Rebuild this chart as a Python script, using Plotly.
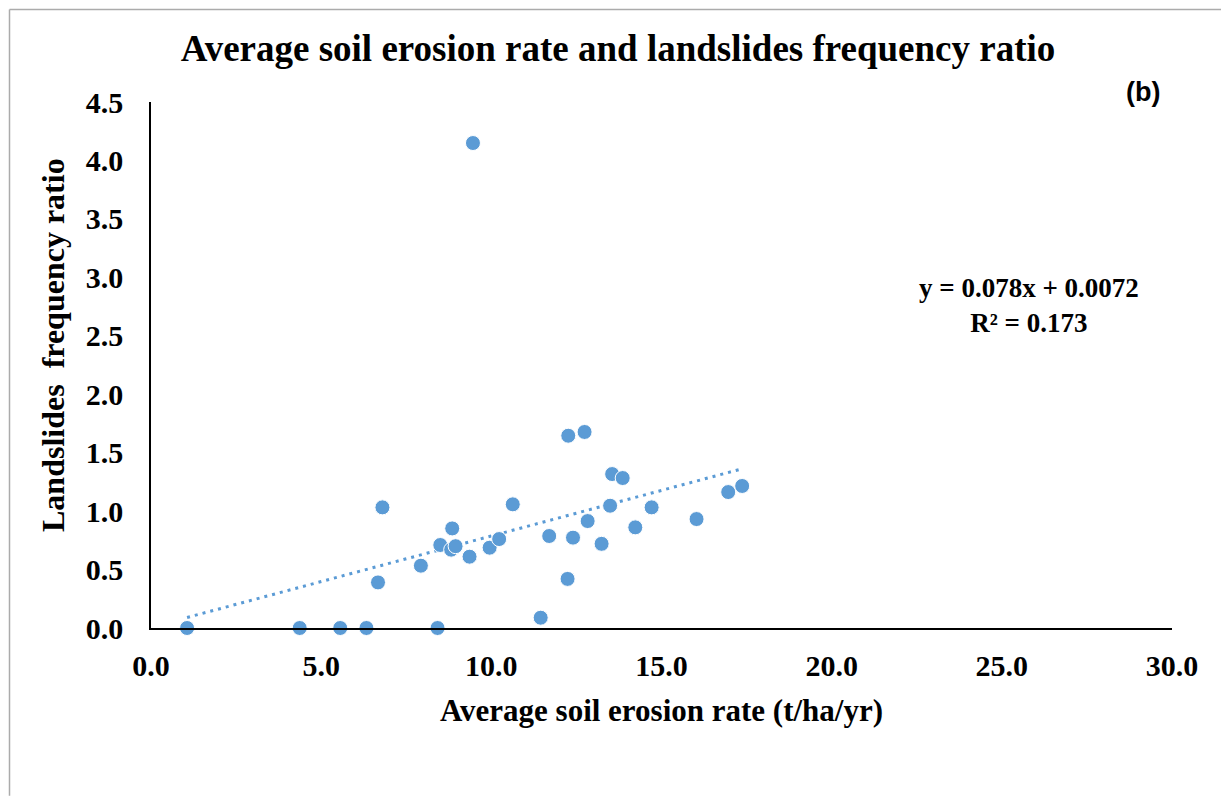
import numpy as np
import plotly.graph_objects as go

# Data
erosion_rate = [1.06, 4.37, 5.56, 6.33, 8.42, 11.45, 6.67, 6.80, 7.93, 8.50,
                8.85, 8.82, 8.95, 9.36, 9.95, 10.23, 10.63, 11.70, 12.24, 12.26,
                12.74, 12.40, 12.83, 13.24, 13.55, 13.86, 13.49, 14.23, 14.71,
                16.03, 16.96, 17.37, 9.46]
freq_ratio = [0.0, 0.0, 0.0, 0.0, 0.0, 0.088, 0.39, 1.032, 0.533, 0.71,
              0.852, 0.67, 0.70, 0.61, 0.687, 0.761, 1.058, 0.787, 0.42, 1.645,
              1.677, 0.773, 0.915, 0.72, 1.317, 1.283, 1.046, 0.861, 1.032,
              0.932, 1.163, 1.215, 4.149]

slope = 0.078
intercept = 0.0072
r_squared = 0.173

x_ticks = [0, 5, 10, 15, 20, 25, 30]
y_ticks = [0, 0.5, 1.0, 1.5, 2.0, 2.5, 3.0, 3.5, 4.0, 4.5]

blue = "#5B9BD5"
serif = "Liberation Serif, Times New Roman, serif"

tx = np.array([min(erosion_rate), max(erosion_rate)])
ty = slope * tx + intercept

fig = go.Figure()
fig.add_trace(go.Scatter(x=tx, y=ty, mode="lines",
                         line=dict(color=blue, width=3, dash="3px,5px"),
                         hoverinfo="skip", showlegend=False))
fig.add_trace(go.Scatter(x=erosion_rate, y=freq_ratio, mode="markers",
                         marker=dict(color=blue, size=15,
                                     line=dict(color="white", width=1)),
                         showlegend=False, cliponaxis=False))

fig.update_layout(
    width=1221, height=788,
    margin=dict(l=143, r=57, t=94, b=168),
    paper_bgcolor="white", plot_bgcolor="white",
    title=dict(text="<b>Average soil erosion rate and landslides frequency ratio</b>",
               x=0.4996, xanchor="center", y=0.949, yanchor="middle",
               font=dict(family=serif, size=37, color="black")),
    xaxis=dict(range=[0, 30], tickvals=x_ticks, tickformat=".1f",
               showgrid=False, zeroline=False, showline=True,
               linecolor="black", linewidth=2, ticks="",
               ticklabelstandoff=10,
               tickfont=dict(family=serif, size=30, color="black", weight="bold"),
               title=dict(text="<b>Average soil erosion rate (t/ha/yr)</b>",
                          font=dict(family=serif, size=31, color="black"),
                          standoff=18)),
    yaxis=dict(range=[0, 4.5], tickvals=y_ticks, tickformat=".1f",
               showgrid=False, zeroline=False, showline=True,
               linecolor="black", linewidth=1.5, ticks="",
               ticklabelstandoff=20,
               tickfont=dict(family=serif, size=30, color="black", weight="bold")),
    annotations=[
        dict(text="<b>Landslides  frequency ratio</b>", textangle=-90,
             x=-0.096, y=0.538, xref="paper", yref="paper",
             xanchor="center", yanchor="middle", showarrow=False,
             font=dict(family=serif, size=32, color="black")),
        dict(text=f"<b>y = {slope}x + {intercept}</b><br><b>R² = {r_squared}</b>",
             x=25.8, y=2.76, xref="x", yref="y", showarrow=False,
             font=dict(family=serif, size=27, color="black"), align="center"),
        dict(text="<b>(b)</b>", x=0.972, y=1.019, xref="paper", yref="paper",
             xanchor="center", yanchor="middle", showarrow=False,
             font=dict(family="Liberation Sans, Arial, sans-serif", size=27,
                       color="black")),
    ],
    shapes=[
        dict(type="line", xref="paper", yref="paper",
             x0=-0.13859, x1=-0.13859, y0=-0.319, y1=1.17586,
             line=dict(color="#ABABAB", width=1.5)),
        dict(type="line", xref="paper", yref="paper",
             x0=-0.13859, x1=1.056, y0=1.17586, y1=1.17586,
             line=dict(color="#ABABAB", width=1.5)),
    ],
)

fig.write_html("out.html")
